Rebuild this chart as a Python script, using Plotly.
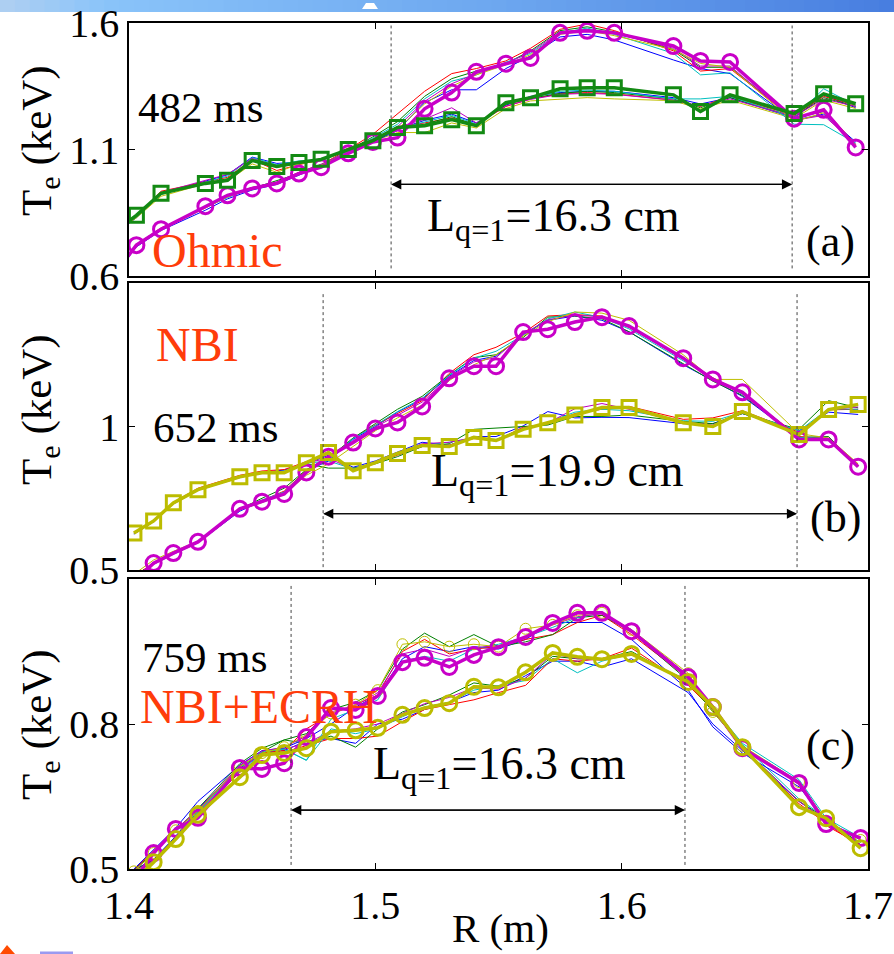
import plotly.graph_objects as go

W, H = 894, 954

# ---------------- data ----------------
# Panel (a) 482 ms, Ohmic  (first channel lies just left of the axis and is clipped)
R_A = [1.394, 1.403, 1.413, 1.431, 1.440, 1.450, 1.460, 1.469, 1.478, 1.489, 1.499, 1.509, 1.520, 1.531,
       1.541, 1.553, 1.563, 1.575, 1.586, 1.597, 1.621, 1.632, 1.644, 1.670, 1.682, 1.695]
A_circ = [0.607, 0.722, 0.785, 0.876, 0.919, 0.946, 0.966, 1.005, 1.030, 1.085, 1.130, 1.147, 1.261, 1.325,
          1.407, 1.439, 1.462, 1.561, 1.569, 1.561, 1.509, 1.450, 1.446, 1.222, 1.257, 1.108]
A_sq = [0.774, 0.840, 0.927, 0.966, 0.978, 1.057, 1.033, 1.049, 1.061, 1.100, 1.135, 1.187, 1.194, 1.218,
        1.194, 1.285, 1.305, 1.340, 1.344, 1.344, 1.316, 1.250, 1.316, 1.242, 1.320, 1.281]
A_hi_blue = [0.600, 0.715, 0.780, 0.860, 0.905, 0.940, 0.962, 1.000, 1.035, 1.085, 1.130, 1.175, 1.285, 1.336,
             1.336, 1.420, 1.470, 1.545, 1.555, 1.533, 1.454, 1.420, 1.400, 1.215, 1.240, 1.130]
A_hi_red = [0.612, 0.725, 0.790, 0.870, 0.915, 0.950, 0.970, 1.010, 1.040, 1.100, 1.160, 1.240, 1.330, 1.400,
            1.420, 1.450, 1.500, 1.575, 1.596, 1.570, 1.490, 1.410, 1.420, 1.220, 1.260, 1.120]
A_hi_green = [0.608, 0.720, 0.785, 0.875, 0.915, 0.945, 0.975, 1.005, 1.035, 1.095, 1.150, 1.210, 1.310, 1.380,
              1.410, 1.440, 1.490, 1.570, 1.585, 1.565, 1.495, 1.425, 1.425, 1.225, 1.250, 1.115]
A_hi_cyan = [0.605, 0.718, 0.783, 0.870, 0.910, 0.948, 0.968, 1.008, 1.040, 1.092, 1.145, 1.200, 1.300, 1.370,
             1.395, 1.445, 1.480, 1.560, 1.580, 1.555, 1.480, 1.395, 1.403, 1.200, 1.198, 1.125]
A_hi_mag = [0.607, 0.722, 0.787, 0.872, 0.918, 0.950, 0.972, 1.010, 1.042, 1.090, 1.140, 1.190, 1.290, 1.360,
            1.400, 1.440, 1.485, 1.565, 1.575, 1.560, 1.500, 1.430, 1.430, 1.215, 1.235, 1.120]
A_hi_yel = [0.606, 0.720, 0.782, 0.868, 0.912, 0.945, 0.968, 1.005, 1.038, 1.088, 1.138, 1.180, 1.280, 1.350,
            1.395, 1.435, 1.475, 1.555, 1.570, 1.550, 1.495, 1.440, 1.425, 1.210, 1.245, 1.118]
A_lo_blue = [0.765, 0.830, 0.925, 0.975, 1.000, 1.070, 1.045, 1.050, 1.060, 1.100, 1.135, 1.180, 1.215, 1.240,
             1.205, 1.275, 1.310, 1.325, 1.330, 1.330, 1.305, 1.280, 1.305, 1.225, 1.315, 1.265]
A_lo_red = [0.772, 0.835, 0.935, 0.970, 0.990, 1.060, 1.017, 1.040, 1.060, 1.105, 1.140, 1.190, 1.205, 1.225,
            1.200, 1.270, 1.300, 1.320, 1.325, 1.320, 1.295, 1.270, 1.310, 1.235, 1.310, 1.275]
A_lo_green = [0.776, 0.838, 0.928, 0.968, 0.985, 1.055, 1.030, 1.045, 1.055, 1.098, 1.130, 1.185, 1.200, 1.230,
              1.195, 1.278, 1.302, 1.322, 1.330, 1.325, 1.300, 1.265, 1.305, 1.230, 1.305, 1.270]
A_lo_cyan = [0.768, 0.832, 0.922, 0.972, 0.995, 1.068, 1.040, 1.055, 1.060, 1.102, 1.135, 1.182, 1.210, 1.235,
             1.200, 1.280, 1.305, 1.330, 1.335, 1.330, 1.300, 1.300, 1.310, 1.225, 1.340, 1.275]
A_lo_mag = [0.770, 0.836, 0.930, 0.978, 1.002, 1.065, 1.035, 1.048, 1.062, 1.100, 1.138, 1.188, 1.220, 1.265,
            1.205, 1.272, 1.298, 1.318, 1.322, 1.318, 1.295, 1.272, 1.300, 1.230, 1.300, 1.270]
A_lo_yel = [0.770, 0.830, 0.915, 0.965, 0.975, 1.043, 1.010, 1.042, 1.058, 1.096, 1.130, 1.167, 1.167, 1.205,
            1.185, 1.262, 1.292, 1.300, 1.305, 1.300, 1.293, 1.260, 1.295, 1.222, 1.295, 1.262]

# Panel (b) 652 ms, NBI
R_B = [1.402, 1.410, 1.418, 1.428, 1.445, 1.454, 1.463, 1.472, 1.481, 1.491, 1.500, 1.509, 1.519, 1.530,
       1.540, 1.549, 1.560, 1.570, 1.581, 1.592, 1.603, 1.625, 1.637, 1.649, 1.672, 1.684, 1.696]
B_circ = [0.460, 0.524, 0.559, 0.598, 0.713, 0.738, 0.765, 0.840, 0.895, 0.944, 0.993, 1.014, 1.070, 1.168,
          1.210, 1.210, 1.329, 1.339, 1.364, 1.381, 1.350, 1.238, 1.164, 1.119, 0.955, 0.955, 0.860]
B_sq = [0.629, 0.671, 0.734, 0.780, 0.825, 0.839, 0.839, 0.874, 0.909, 0.846, 0.874, 0.906, 0.934, 0.930,
        0.962, 0.951, 0.990, 1.013, 1.040, 1.066, 1.066, 1.013, 1.000, 1.052, 0.972, 1.059, 1.077]
B_hi_blue = [0.480, 0.520, 0.555, 0.595, 0.705, 0.740, 0.770, 0.845, 0.880, 0.955, 1.000, 1.050, 1.095, 1.175,
             1.230, 1.245, 1.320, 1.370, 1.385, 1.370, 1.330, 1.215, 1.160, 1.105, 0.960, 0.955, 0.865]
B_hi_red = [0.478, 0.525, 0.560, 0.600, 0.715, 0.742, 0.775, 0.848, 0.885, 0.960, 1.005, 1.045, 1.090, 1.185,
            1.250, 1.276, 1.325, 1.385, 1.390, 1.385, 1.345, 1.235, 1.170, 1.115, 0.965, 0.958, 0.868]
B_hi_green = [0.478, 0.522, 0.558, 0.598, 0.712, 0.750, 0.785, 0.850, 0.890, 0.960, 1.010, 1.060, 1.105, 1.180,
              1.240, 1.250, 1.310, 1.381, 1.385, 1.375, 1.330, 1.220, 1.158, 1.108, 0.962, 0.965, 0.862]
B_hi_cyan = [0.476, 0.521, 0.556, 0.596, 0.708, 0.744, 0.772, 0.846, 0.884, 0.958, 1.004, 1.052, 1.098, 1.178,
             1.238, 1.262, 1.318, 1.375, 1.399, 1.380, 1.340, 1.230, 1.168, 1.112, 0.962, 0.958, 0.866]
B_hi_mag = [0.472, 0.524, 0.559, 0.598, 0.713, 0.738, 0.768, 0.842, 0.888, 0.950, 0.998, 1.040, 1.085, 1.172,
            1.225, 1.240, 1.322, 1.372, 1.388, 1.382, 1.348, 1.240, 1.168, 1.120, 0.958, 0.956, 0.862]
B_hi_yel = [0.485, 0.535, 0.565, 0.600, 0.710, 0.735, 0.765, 0.830, 0.870, 0.930, 0.985, 1.030, 1.075, 1.160,
            1.215, 1.250, 1.315, 1.365, 1.399, 1.395, 1.370, 1.250, 1.164, 1.164, 0.975, 0.960, 0.870]
B_lo_blue = [0.625, 0.668, 0.730, 0.778, 0.822, 0.840, 0.848, 0.870, 0.900, 0.858, 0.880, 0.910, 0.945, 0.935,
             0.965, 0.965, 1.002, 1.052, 1.030, 1.032, 1.031, 1.010, 1.010, 1.045, 0.985, 1.050, 1.042]
B_lo_red = [0.630, 0.672, 0.736, 0.785, 0.830, 0.845, 0.850, 0.878, 0.905, 0.848, 0.872, 0.900, 0.930, 0.935,
            0.958, 0.950, 0.998, 1.008, 1.045, 1.060, 1.070, 1.025, 1.030, 1.055, 0.980, 1.058, 1.060]
B_lo_green = [0.628, 0.670, 0.733, 0.780, 0.826, 0.842, 0.842, 0.870, 0.855, 0.855, 0.870, 0.895, 0.930, 0.940,
              0.990, 0.995, 1.000, 1.005, 1.035, 1.035, 1.040, 1.018, 1.010, 1.045, 0.990, 1.090, 1.065]
B_lo_cyan = [0.627, 0.671, 0.732, 0.782, 0.824, 0.838, 0.845, 0.872, 0.880, 0.852, 0.875, 0.905, 0.935, 0.945,
             0.960, 0.955, 0.992, 1.015, 1.050, 1.060, 1.055, 1.020, 1.018, 1.050, 0.985, 1.062, 1.060]
B_lo_mag = [0.629, 0.671, 0.734, 0.780, 0.825, 0.840, 0.840, 0.873, 0.890, 0.850, 0.875, 0.905, 0.940, 0.945,
            0.962, 0.950, 0.995, 1.012, 1.062, 1.080, 1.060, 1.015, 1.005, 1.050, 0.978, 1.060, 1.068]
B_lo_yel = [0.629, 0.671, 0.734, 0.780, 0.825, 0.839, 0.839, 0.874, 0.905, 0.846, 0.874, 0.906, 0.934, 0.930,
            0.962, 0.951, 0.990, 1.013, 1.040, 1.066, 1.066, 1.013, 1.000, 1.052, 0.972, 1.059, 1.077]

# Panel (c) 759 ms, NBI+ECRH
R_C = [1.402, 1.410, 1.419, 1.428, 1.445, 1.454, 1.463, 1.472, 1.482, 1.492, 1.501, 1.511, 1.520, 1.530,
       1.540, 1.550, 1.561, 1.572, 1.582, 1.592, 1.604, 1.627, 1.637, 1.649, 1.672, 1.683, 1.697]
C_mag = [0.475, 0.533, 0.583, 0.606, 0.709, 0.707, 0.719, 0.773, 0.833, 0.829, 0.858, 0.928, 0.937, 0.918,
         0.943, 0.959, 0.980, 1.009, 1.030, 1.030, 0.992, 0.897, 0.835, 0.750, 0.678, 0.593, 0.564]
C_yel = [0.475, 0.514, 0.562, 0.612, 0.690, 0.736, 0.740, 0.750, 0.784, 0.787, 0.792, 0.819, 0.833, 0.843,
         0.877, 0.876, 0.907, 0.947, 0.939, 0.934, 0.945, 0.887, 0.835, 0.752, 0.628, 0.605, 0.543]
C_hi_blue = [0.500, 0.540, 0.585, 0.640, 0.715, 0.745, 0.750, 0.770, 0.800, 0.835, 0.860, 0.935, 0.960, 0.950,
             0.960, 0.955, 0.975, 1.010, 1.010, 1.010, 0.975, 0.870, 0.794, 0.740, 0.670, 0.600, 0.560]
C_hi_red = [0.498, 0.538, 0.582, 0.620, 0.712, 0.740, 0.745, 0.790, 0.820, 0.840, 0.860, 0.950, 0.975, 0.945,
            0.955, 0.960, 0.975, 0.985, 1.010, 1.025, 0.985, 0.895, 0.830, 0.748, 0.680, 0.590, 0.550]
C_hi_green = [0.497, 0.535, 0.580, 0.625, 0.718, 0.750, 0.767, 0.780, 0.830, 0.845, 0.870, 0.955, 0.988, 0.960,
              0.985, 0.960, 0.970, 0.985, 1.020, 1.025, 0.990, 0.890, 0.825, 0.755, 0.675, 0.595, 0.555]
C_hi_cyan = [0.496, 0.532, 0.578, 0.618, 0.710, 0.742, 0.748, 0.725, 0.810, 0.830, 0.850, 0.930, 0.940, 0.930,
             0.955, 0.965, 0.980, 1.000, 1.020, 1.030, 0.995, 0.900, 0.835, 0.760, 0.685, 0.605, 0.565]
C_hi_mag = [0.495, 0.534, 0.582, 0.622, 0.714, 0.744, 0.752, 0.775, 0.825, 0.838, 0.865, 0.945, 0.955, 0.940,
            0.958, 0.962, 0.978, 1.005, 1.022, 1.028, 0.995, 0.895, 0.838, 0.752, 0.682, 0.598, 0.562]
C_hi_yel = [0.495, 0.533, 0.580, 0.620, 0.712, 0.740, 0.752, 0.778, 0.822, 0.840, 0.870, 0.965, 0.970, 0.960,
            0.965, 0.960, 0.997, 1.005, 1.025, 1.030, 0.995, 0.905, 0.825, 0.755, 0.680, 0.600, 0.560]
C_lo_blue = [0.498, 0.520, 0.568, 0.625, 0.705, 0.740, 0.745, 0.765, 0.770, 0.760, 0.800, 0.810, 0.830, 0.845,
             0.865, 0.870, 0.900, 0.930, 0.930, 0.918, 0.935, 0.865, 0.800, 0.745, 0.640, 0.600, 0.548]
C_lo_red = [0.496, 0.518, 0.565, 0.615, 0.700, 0.735, 0.742, 0.755, 0.770, 0.770, 0.775, 0.805, 0.830, 0.840,
            0.850, 0.865, 0.880, 0.935, 0.930, 0.935, 0.957, 0.880, 0.830, 0.750, 0.635, 0.595, 0.545]
C_lo_green = [0.497, 0.519, 0.566, 0.620, 0.708, 0.742, 0.767, 0.760, 0.775, 0.752, 0.790, 0.825, 0.840, 0.860,
              0.885, 0.878, 0.895, 0.940, 0.935, 0.935, 0.950, 0.885, 0.828, 0.752, 0.640, 0.605, 0.550]
C_lo_cyan = [0.495, 0.516, 0.564, 0.618, 0.702, 0.738, 0.748, 0.725, 0.790, 0.780, 0.790, 0.815, 0.835, 0.845,
             0.870, 0.880, 0.890, 0.935, 0.906, 0.930, 0.945, 0.890, 0.830, 0.758, 0.645, 0.605, 0.550]
C_lo_mag = [0.496, 0.517, 0.565, 0.616, 0.705, 0.740, 0.748, 0.760, 0.785, 0.790, 0.800, 0.822, 0.842, 0.855,
            0.875, 0.872, 0.895, 0.945, 0.935, 0.932, 0.945, 0.885, 0.832, 0.752, 0.640, 0.600, 0.548]
C_lo_yel = [0.495, 0.515, 0.563, 0.614, 0.692, 0.738, 0.742, 0.752, 0.786, 0.789, 0.794, 0.820, 0.835, 0.845,
            0.878, 0.877, 0.905, 0.945, 0.938, 0.935, 0.945, 0.888, 0.835, 0.752, 0.630, 0.606, 0.545]

# q=1 surface positions (m) and arrow heights (keV)
Q1_A = [1.5064, 1.6692]
Q1_B = [1.4788, 1.6712]
Q1_C = [1.4658, 1.6257]
ARROW_Y = [0.962, 0.696, 0.622]

X_TICKS = [1.4, 1.5, 1.6, 1.7]
X_TEXT = ["1.4", "1.5", "1.6", "1.7"]
Y_TICKS_A = [0.6, 1.1, 1.6]
Y_TICKS_B = [0.5, 1.0]
Y_TICKS_C = [0.5, 0.8]
Y_TEXT_A = ["0.6", "1.1", "1.6"]
Y_TEXT_B = ["0.5", "1"]
Y_TEXT_C = ["0.5", "0.8"]

# ---------------- styling ----------------
FONT = "Times New Roman"
THIN = {"blue": "#0000ff", "red": "#ff0000", "green": "#008000",
        "cyan": "#00bfbf", "mag": "#bf00bf", "yel": "#bfbf00"}
MAG = "#c800c8"
GRN = "#138a13"
YEL = "#bcbc00"
RED_TXT = "#ff3c0a"


def px(x):
    return x / W


def py(y):
    return 1 - y / H


fig = go.Figure()

panels = [
    ("x", "y", R_A,
     [A_hi_blue, A_hi_red, A_hi_green, A_hi_cyan, A_hi_mag, A_hi_yel],
     [A_lo_blue, A_lo_red, A_lo_green, A_lo_cyan, A_lo_mag, A_lo_yel]),
    ("x2", "y2", R_B,
     [B_hi_blue, B_hi_red, B_hi_green, B_hi_cyan, B_hi_mag, B_hi_yel],
     [B_lo_blue, B_lo_red, B_lo_green, B_lo_cyan, B_lo_mag, B_lo_yel]),
    ("x3", "y3", R_C,
     [C_hi_blue, C_hi_red, C_hi_green, C_hi_cyan, C_hi_mag, C_hi_yel],
     [C_lo_blue, C_lo_red, C_lo_green, C_lo_cyan, C_lo_mag, C_lo_yel]),
]
cols = ["blue", "red", "green", "cyan", "mag", "yel"]

for xa, ya, R, hi, lo in panels:
    for grp in (lo, hi):
        for c, vals in zip(cols, grp):
            if xa == "x3" and grp is hi and c == "yel":
                fig.add_trace(go.Scatter(x=R, y=vals, xaxis=xa, yaxis=ya, mode="lines+markers",
                                         line=dict(color=THIN[c], width=1),
                                         marker=dict(symbol="circle-open", size=11, color=THIN[c],
                                                     line=dict(width=1, color=THIN[c])),
                                         showlegend=False, hoverinfo="skip"))
            else:
                fig.add_trace(go.Scatter(x=R, y=vals, xaxis=xa, yaxis=ya, mode="lines",
                                         line=dict(color=THIN[c], width=1),
                                         showlegend=False, hoverinfo="skip"))


def thick(R, vals, xa, ya, color, symbol, size):
    fig.add_trace(go.Scatter(x=R, y=vals, xaxis=xa, yaxis=ya, mode="lines+markers",
                             line=dict(color=color, width=3.5),
                             marker=dict(symbol=symbol, size=size, color=color, line=dict(width=3, color=color)),
                             showlegend=False))


thick(R_A, A_circ, "x", "y", MAG, "circle-open", 15)
thick(R_A, A_sq, "x", "y", GRN, "square-open", 14)
thick(R_B, B_circ, "x2", "y2", MAG, "circle-open", 15)
thick(R_B, B_sq, "x2", "y2", YEL, "square-open", 14)
thick(R_C, C_mag, "x3", "y3", MAG, "circle-open", 15)
thick(R_C, C_yel, "x3", "y3", YEL, "circle-open", 15)

# ---------------- axes ----------------
XDOM = [px(129), px(868)]
domains = {"y": [py(276), py(23)], "y2": [py(570), py(283)], "y3": [py(869), py(579)]}
yranges = {"y": [0.6, 1.6], "y2": [0.5, 1.5], "y3": [0.5, 1.1]}
yticks = {"y": (Y_TICKS_A, Y_TEXT_A), "y2": (Y_TICKS_B, Y_TEXT_B), "y3": (Y_TICKS_C, Y_TEXT_C)}


def axis(**kw):
    d = dict(showline=True, linecolor="black", linewidth=1.6, mirror="ticks",
             ticks="inside", ticklen=6, tickwidth=1.2, tickcolor="black",
             showgrid=False, zeroline=False, automargin=False,
             tickfont=dict(family=FONT, size=40, color="black"))
    d.update(kw)
    return d


layout = dict(width=W, height=H, autosize=False, margin=dict(l=0, r=0, t=0, b=0, pad=0),
              paper_bgcolor="white", plot_bgcolor="white", showlegend=False,
              font=dict(family=FONT, color="black"))
for i in range(3):
    sfx = "" if i == 0 else str(i + 1)
    yk = "y" + sfx
    layout["xaxis" + sfx] = axis(domain=XDOM, range=[1.4, 1.7], anchor=yk,
                                 tickmode="array", tickvals=X_TICKS, ticktext=X_TEXT,
                                 showticklabels=(i == 2))
    layout["yaxis" + sfx] = axis(domain=domains[yk], range=yranges[yk], anchor="x" + sfx,
                                 tickmode="array", tickvals=yticks[yk][0], ticktext=yticks[yk][1])
fig.update_layout(**layout)

# ---------------- q=1 lines ----------------
shapes = []
vext = {"x": (0.03, 0.99), "x2": (0.01, 0.965), "x3": (0.014, 0.979)}
for xa, q in (("x", Q1_A), ("x2", Q1_B), ("x3", Q1_C)):
    ydom = {"x": "y domain", "x2": "y2 domain", "x3": "y3 domain"}[xa]
    for xv in q:
        shapes.append(dict(type="line", xref=xa, yref=ydom, x0=xv, x1=xv,
                           y0=vext[xa][0], y1=vext[xa][1],
                           line=dict(color="#444444", width=1, dash="dot")))

# top banner gradient (decoration)
stops = [(0, (176, 208, 242)), (0.12, (138, 196, 250)), (0.55, (110, 168, 240)), (1.0, (72, 126, 224))]
nstr = 60
for k in range(nstr):
    t = (k + 0.5) / nstr
    for j in range(len(stops) - 1):
        if stops[j][0] <= t <= stops[j + 1][0]:
            f = (t - stops[j][0]) / (stops[j + 1][0] - stops[j][0])
            c = tuple(int(stops[j][1][m] + f * (stops[j + 1][1][m] - stops[j][1][m])) for m in range(3))
            break
    shapes.append(dict(type="rect", xref="paper", yref="paper", x0=k / nstr, x1=min(1, (k + 1) / nstr + 0.002),
                       y0=py(12), y1=1, fillcolor="rgb(%d,%d,%d)" % c, line=dict(width=0), layer="below"))
shapes.append(dict(type="path", xref="paper", yref="paper",
                   path="M %f %f L %f %f L %f %f L %f %f Z" % (px(362), py(9), px(366), py(3), px(374), py(3), px(378), py(9)),
                   fillcolor="white", line=dict(width=0)))
# red bullet and lavender bar bottom-left (decoration of the slide)
shapes.append(dict(type="path", xref="paper", yref="paper",
                   path="M %f %f L %f %f L %f %f Z" % (px(0), py(954), px(7), py(945), px(15), py(954)),
                   fillcolor="#ff4a00", line=dict(width=0)))
shapes.append(dict(type="rect", xref="paper", yref="paper", x0=px(40), x1=px(73), y0=py(954), y1=py(951.5),
                   fillcolor="#9a9af0", line=dict(width=0)))
fig.update_layout(shapes=shapes)

ann = []
for xa, ya, q, yv in (("x", "y", Q1_A, ARROW_Y[0]), ("x2", "y2", Q1_B, ARROW_Y[1]), ("x3", "y3", Q1_C, ARROW_Y[2])):
    for tip, tail in ((q[1], q[0]), (q[0], q[1])):
        ann.append(dict(x=tip, y=yv, ax=tail, ay=yv, xref=xa, yref=ya, axref=xa, ayref=ya,
                        text="", showarrow=True, arrowhead=2,
                        arrowsize=1.7, arrowwidth=1.2, arrowcolor="black"))


def label(t, xc, y, size, color="black"):
    ann.append(dict(text=t, x=px(xc), y=py(y), xref="paper", yref="paper", showarrow=False,
                    xanchor="center", yanchor="middle", font=dict(family=FONT, size=size, color=color)))


label("482 ms", 200, 107, 43)
label("Ohmic", 217, 251, 48, RED_TXT)
label("L<sub>q=1</sub>=16.3 cm", 553, 219, 46)
label("(a)", 830, 242, 44)

label("NBI", 197, 344, 48, RED_TXT)
label("652 ms", 215, 427, 43)
label("L<sub>q=1</sub>=19.9 cm", 557, 474, 46)
label("(b)", 835, 517, 44)

label("759 ms", 204, 657, 43)
label("NBI+ECRH", 259, 706, 48, RED_TXT)
label("L<sub>q=1</sub>=16.3 cm", 499, 767, 46)
label("(c)", 830, 745, 44)

for yc in (141, 410, 725):
    ann.append(dict(text="T<sub>e</sub> (keV)", x=px(40), y=py(yc), xref="paper", yref="paper",
                    showarrow=False, textangle=-90, xanchor="center", yanchor="middle",
                    font=dict(family=FONT, size=43, color="black")))
label("R (m)", 500, 928, 41)

fig.update_layout(annotations=ann)
fig.write_html("out.html")
